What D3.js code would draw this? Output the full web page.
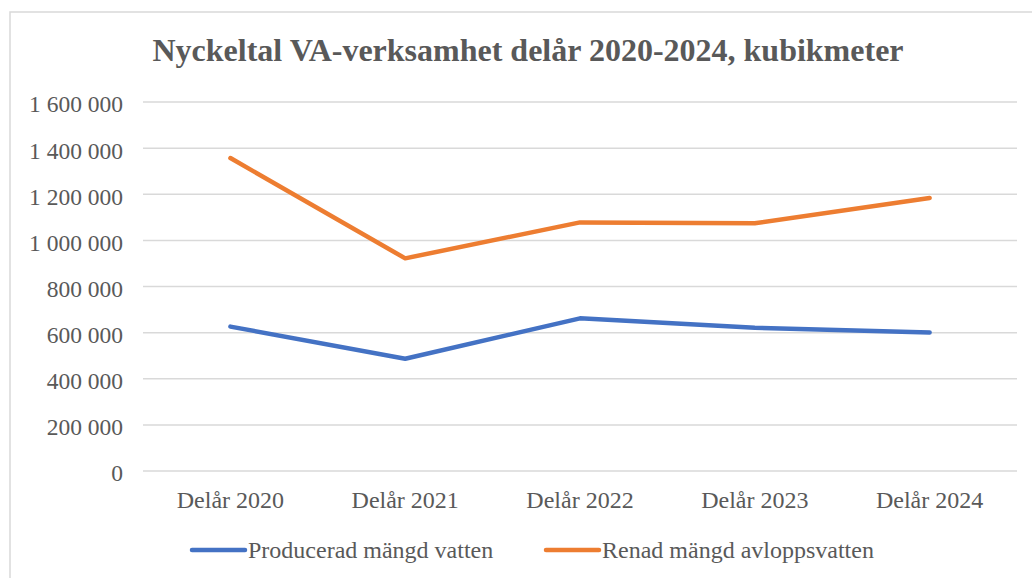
<!DOCTYPE html>
<html>
<head>
<meta charset="utf-8">
<script src="https://cdn.jsdelivr.net/npm/d3@7"></script>
<style>
  body { margin: 0; background: #fff; }
  svg text { font-family: "Liberation Serif", "Times New Roman", serif; fill: #595959; }
</style>
</head>
<body>
<script>
var categories = ['Delår 2020', 'Delår 2021', 'Delår 2022', 'Delår 2023', 'Delår 2024'];
var producerad = [626000, 487000, 662000, 621000, 601000];
var renad = [1357000, 922000, 1078000, 1074000, 1184000];
var yTicks = [0, 200000, 400000, 600000, 800000, 1000000, 1200000, 1400000, 1600000];
var seriesNames = ['Producerad mängd vatten', 'Renad mängd avloppsvatten'];
var seriesColors = ['#4472C4', '#ED7D31'];

var serif = '"Liberation Serif", "Times New Roman", serif';

var svg = d3.select('body').append('svg').attr('width', 1032).attr('height', 578);

// chart frame (only top and left visible in the crop)
svg.append('path')
    .attr('d', 'M10,578 V12 H1032')
    .attr('fill', 'none')
    .attr('stroke', '#D9D9D9')
    .attr('stroke-width', 1.5);

svg.append('text')
    .attr('x', 528).attr('y', 61)
    .attr('text-anchor', 'middle')
    .style('font-family', serif)
    .style('font-size', '32px')
    .style('font-weight', 'bold')
    .text('Nyckeltal VA-verksamhet delår 2020-2024, kubikmeter');

var x = d3.scaleBand().domain(categories).range([143, 1017]);
var y = d3.scaleLinear().domain([0, 1600000]).range([471, 102]);

var fmt = function(v) { return d3.format(',')(v).replace(/,/g, '\u00a0'); };

// gridlines
svg.append('g').selectAll('line').data(yTicks).enter().append('line')
    .attr('x1', 143).attr('x2', 1017)
    .attr('y1', d => y(d)).attr('y2', d => y(d))
    .attr('stroke', '#D9D9D9').attr('stroke-width', 1.5);

// y axis labels
var yAxis = svg.append('g').attr('transform', 'translate(123,0)')
    .call(d3.axisLeft(y).tickValues(yTicks).tickFormat(fmt).tickSize(0).tickPadding(0));
yAxis.select('.domain').remove();
yAxis.selectAll('text')
    .style('font-family', serif).style('font-size', '23.5px')
    .attr('fill', '#595959').attr('dy', '0.42em');

// x axis labels
var xAxis = svg.append('g').attr('transform', 'translate(0,508)')
    .call(d3.axisBottom(x).tickSize(0).tickPadding(0));
xAxis.select('.domain').remove();
xAxis.selectAll('text')
    .style('font-family', serif).style('font-size', '24px')
    .attr('fill', '#595959').attr('y', 0).attr('dy', 0);

var line = d3.line()
    .x((d, i) => x(categories[i]) + x.bandwidth() / 2)
    .y(d => y(d));

[producerad, renad].forEach(function(s, k) {
    svg.append('path')
        .attr('fill', 'none')
        .attr('stroke', seriesColors[k])
        .attr('stroke-width', 4.5)
        .attr('stroke-linecap', 'round')
        .attr('stroke-linejoin', 'round')
        .attr('d', line(s));
});

// legend
var legendX = [192, 546];
seriesNames.forEach(function(name, k) {
    var g = svg.append('g').attr('transform', 'translate(' + legendX[k] + ',550)');
    g.append('line').attr('x1', 0).attr('x2', 53)
        .attr('stroke', seriesColors[k]).attr('stroke-width', 4.5).attr('stroke-linecap', 'round');
    g.append('text').attr('x', 56).attr('y', 7.5)
        .style('font-family', serif)
        .style('font-size', '24px').text(name);
});
</script>
</body>
</html>
